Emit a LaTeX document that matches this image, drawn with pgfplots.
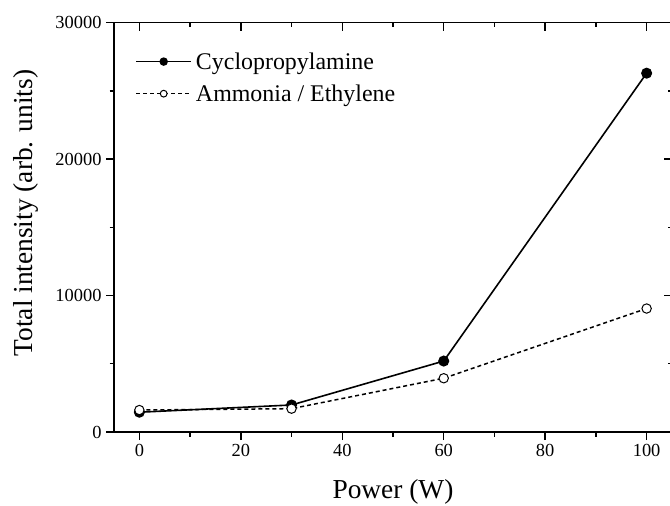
\documentclass[border=0pt]{standalone}
\usepackage{fontspec}
\setmainfont{Liberation Serif}
\usepackage{pgfplots}
\pgfplotsset{compat=1.18}
\begin{document}
\begin{tikzpicture}[x=1bp,y=1bp]
\pgfplotsset{
  common/.style={
    at={(0bp,0bp)}, anchor=south west,
    scale only axis, width=558bp, height=409.3bp,
    xmin=-5, xmax=105, ymin=0, ymax=30000,
    xtick={0,20,...,100}, ytick={0,10000,20000,30000},
    minor x tick num=1, minor y tick num=1,
    major tick length=8bp, minor tick length=4.5bp,
    every tick/.style={line width=1.4bp, black},
    axis line style={line width=1.5bp},
    scaled y ticks=false,
    /pgf/number format/assume math mode=true,
    /pgf/number format/1000 sep={},
  }
}
\begin{axis}[common,
  axis x line*=bottom, axis y line*=left,
  tick align=outside,
  ticklabel style={font=\fontsize{18.5}{20}\selectfont},
  xlabel={Power (W)}, ylabel={Total intensity (arb. units)},
  label style={font=\fontsize{27.5}{30}\selectfont},
  xlabel style={at={(axis description cs:0.5,-0.146)}, anchor=center},
  ylabel style={at={(axis description cs:-0.158,0.535)}, anchor=center},
  xticklabel style={yshift=-1bp},
  yticklabel style={xshift=-1bp},
  legend style={at={(axis description cs:0.038,0.93)}, anchor=north west,
    draw=none, fill=none, inner sep=0pt,
    font=\fontsize{24}{27}\selectfont, row sep=12bp,
    nodes={inner xsep=4bp, inner ysep=1bp}},
  legend cell align=left,
  legend image code/.code={
    \draw[#1, mark size=3.4bp, mark repeat=2, mark phase=2] plot coordinates {(0bp,0bp) (27.5bp,0bp) (55bp,0bp)};
  },
]
\addplot[black, line width=1.6bp, mark=*, mark size=4.7bp, mark options={solid, fill=black}]
  coordinates {(0,1450) (30,1980) (60,5200) (100,26300)};
\addlegendentry{Cyclopropylamine}
\addplot[black, line width=1.5bp, dash pattern=on 4bp off 3bp, mark=*, mark size=4.7bp, mark options={solid, fill=white, line width=1bp}]
  coordinates {(0,1610) (30,1710) (60,3940) (100,9050)};
\addlegendentry{Ammonia / Ethylene}
\end{axis}
\begin{axis}[common,
  axis x line*=top, axis y line*=right,
  tick align=inside,
  xticklabels={}, yticklabels={},
]
\end{axis}
\pgfresetboundingbox
\path (-114bp,-74bp) rectangle (556bp,432bp);
\end{tikzpicture}
\end{document}
